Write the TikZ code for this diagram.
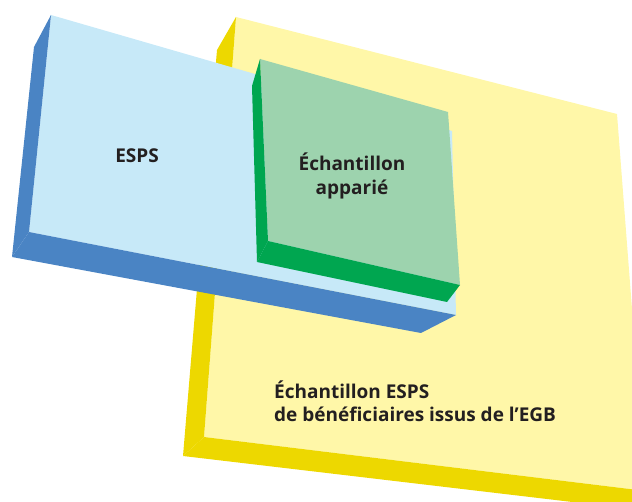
\documentclass[tikz,border=0pt]{standalone}
\usepackage{fontspec}
\setmainfont{Open Sans}
\usepackage{tikz}
\usetikzlibrary{positioning}
\definecolor{bleuclair}{HTML}{C7E9F8}
\definecolor{bleu}{HTML}{4A84C4}
\definecolor{vertclair}{HTML}{9DD3AE}
\definecolor{vert}{HTML}{00A650}
\definecolor{jauneclair}{HTML}{FFF7A8}
\definecolor{jaune}{HTML}{EDD800}
\definecolor{texte}{HTML}{231F20}

\begin{document}
\begin{tikzpicture}[x=1pt,y=-1pt,
    label/.style={inner sep=0pt,text=texte,font=\fontsize{19}{24}\selectfont\bfseries}]
      \useasboundingbox (0,0) rectangle (632,502);
      \clip (0,0) rectangle (632,502);
      % grand echantillon (jaune)
      \fill[fill=jauneclair] (236,17) -- (617,114) -- (646,491) -- (204,437) -- cycle;
      \fill[fill=jaune] (236,17) -- (217,50) -- (183,456) -- (204,437) -- cycle;
      \fill[fill=jaune] (204,437) -- (183,456) -- (640,510) -- (646,491) -- cycle;
      % ESPS (bleu)
      \fill[fill=bleuclair] (51,15) -- (452,131) -- (456,315) -- (29,232) -- cycle;
      \fill[fill=bleu] (51,15) -- (34,47) -- (12,257) -- (29,232) -- cycle;
      \fill[fill=bleu] (29,232) -- (12,257) -- (421,333) -- (456,315) -- cycle;
      % echantillon apparie (vert)
      \fill[fill=vertclair] (260,59) -- (448,112) -- (460,285) -- (268,241) -- cycle;
      \fill[fill=vert] (260,59) -- (252,86) -- (257,262) -- (268,241) -- cycle;
      \fill[fill=vert] (268,241) -- (257,262) -- (447,302) -- (460,285) -- cycle;
      \node[label,anchor=base] (esps) at (137,163) {ESPS};
      \node[label,align=center,anchor=base] (apparie) at (352,195) {Échantillon\\ apparié};
      \node[label,align=left,anchor=base west] (egb) at (274,422) {Échantillon ESPS\\de bénéficiaires issus de l’EGB};
    \end{tikzpicture}
\end{document}
